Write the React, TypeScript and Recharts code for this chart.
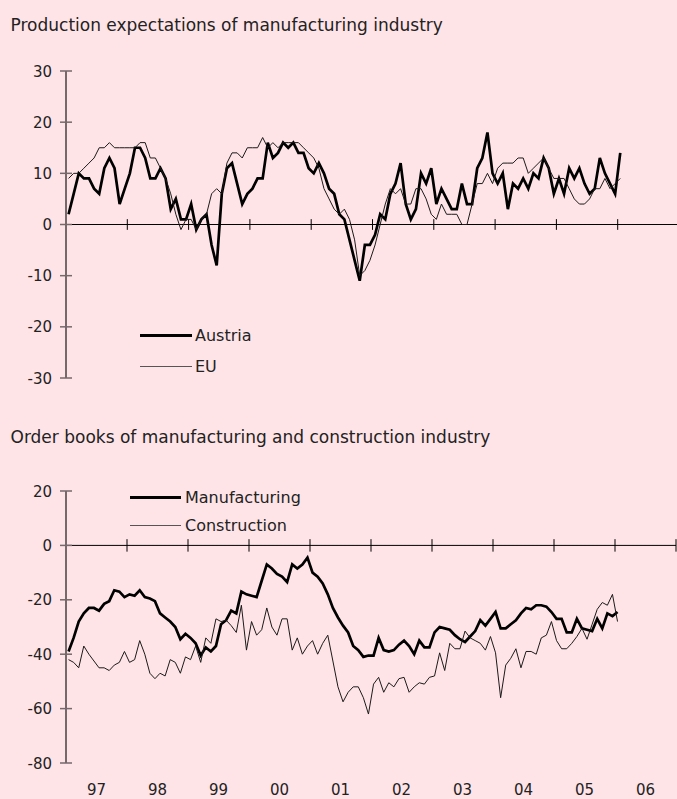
import { LineChart, Line, XAxis, YAxis, ReferenceLine, Legend } from 'recharts';

const START_YEAR = 1997;

// monthly survey balances, Jan 1997 - Jan 2006
const austria = [
  2, 6, 10, 9, 9, 7, 6, 11, 13, 11, 4, 7,
  10, 15, 15, 13, 9, 9, 11, 9, 3, 5, 1, 1,
  4, -1, 1, 2, -4, -8, 6, 11, 12, 8, 4, 6,
  7, 9, 9, 16, 13, 14, 16, 15, 16, 14, 14, 11,
  10, 12, 10, 7, 6, 2, 1, -3, -7, -11, -4, -4,
  -2, 2, 1, 6, 8, 12, 4, 1, 3, 10, 8, 11,
  4, 7, 5, 3, 3, 8, 4, 4, 11, 13, 18, 10,
  8, 10, 3, 8, 7, 9, 7, 10, 9, 13, 11, 6,
  9, 6, 11, 9, 11, 8, 6, 7, 13, 10, 8, 6,
  14,
];
const eu = [
  9, 10, 10, 11, 12, 13, 15, 15, 16, 15, 15, 15,
  15, 15, 16, 16, 13, 13, 11, 9, 6, 2, -1, 1,
  1, -1, 1, 2, 6, 7, 6, 12, 14, 14, 13, 15,
  15, 15, 17, 15, 16, 15, 16, 16, 16, 16, 15, 14,
  13, 11, 7, 5, 3, 2, 3, 1, -3, -10, -9, -7,
  -4, 0, 4, 7, 6, 7, 4, 4, 7, 7, 5, 2,
  1, 4, 2, 2, 2, 0, 0, 4, 8, 8, 10, 8,
  11, 12, 12, 12, 13, 13, 10, 11, 12, 13, 11, 9,
  9, 9, 7, 5, 4, 4, 5, 7, 7, 9, 7, 8,
  9,
];
const manufacturing = [
  -39, -34, -28, -25, -23, -23, -24, -21.5, -20.5, -16.5, -17, -19,
  -18, -18.5, -16.5, -19, -19.5, -20.5, -25, -26.5, -28, -30, -34.5, -32.5,
  -34, -36, -40.5, -37.5, -39, -37, -29, -27.5, -24, -25, -17, -18,
  -18.5, -19, -13, -7, -8.5, -10.5, -11.5, -13.5, -7, -8.5, -7, -4.5,
  -10, -11.5, -14, -18, -23, -26.5, -29.5, -32, -37, -38.5, -41, -40.5,
  -40.5, -34, -38.5, -39, -38.5, -36.5, -35, -37, -40, -35, -37.5, -37.5,
  -32, -30, -30.5, -31, -33, -34.5, -35.5, -33.5, -31.5, -27.5, -29.5, -27,
  -24.5, -30.5, -30.5, -29, -27.5, -25, -23, -23.5, -22, -22, -22.5, -24.5,
  -27, -27, -32, -32, -27, -30.5, -31, -31.5, -27, -30.5, -25, -26,
  -24.5,
];
const construction = [
  -42, -43, -45, -37, -40, -42.5, -45, -45, -46, -44, -43, -39,
  -43, -42, -35, -40, -47, -49, -47, -48, -42, -43, -47, -41,
  -42, -37, -43, -34, -36, -27, -28, -27.5, -29.5, -32, -22, -38.5,
  -28, -33, -31, -23, -30, -33, -27, -27, -38.5, -34, -40, -37,
  -35, -40, -36, -33, -42.5, -52, -57.5, -54, -52, -52, -56, -62,
  -51, -48.5, -54, -50.5, -52, -49, -48.5, -54, -52, -50.5, -51, -48.5,
  -48, -39.5, -46, -36, -38, -38, -31.5, -34, -35, -36, -38.5, -33.5,
  -39.5, -56, -44, -41.5, -38, -45, -39, -39, -40, -34, -33, -28,
  -35, -38, -38, -36, -33.5, -30.5, -34.5, -29, -23.5, -21, -22, -18,
  -28,
];

const topYTicks = [-30, -20, -10, 0, 10, 20, 30];
const bottomYTicks = [-80, -60, -40, -20, 0, 20];
const topYearTicks = [1998, 1999, 2000, 2001, 2002, 2003, 2004, 2005, 2006];
const bottomYearTicks = [1998, 1999, 2000, 2001, 2002, 2003, 2004, 2005, 2006, 2007];
const yearLabelPos = [1997.5, 1998.5, 1999.5, 2000.5, 2001.5, 2002.5, 2003.5, 2004.5, 2005.5, 2006.5];

const BG = '#FFE4E7';
const AXIS = '#74696b';
const INK = '#222';
const FONT = 'DejaVu Sans';

const monthPos = (i: number) => START_YEAR + (i + 0.5) / 12;

const topData = austria.map((v, i) => ({ t: monthPos(i), austria: v, eu: eu[i] }));
const bottomData = manufacturing.map((v, i) => ({ t: monthPos(i), manufacturing: v, construction: construction[i] }));

function YTick(props: any) {
  const { x, y, payload } = props;
  return (
    <g>
      <line x1={x + 8} x2={x + 20} y1={y} y2={y} stroke={AXIS} strokeWidth={1.5} />
      <text x={x} y={y} dy={5.5} textAnchor="end" fontSize={15} fill={INK} fontFamily={FONT}>
        {payload.value}
      </text>
    </g>
  );
}

// legend keeps the series order given here (Recharts sorts by name otherwise)
function makeLegend(order: string[], rowHeight: number, lineWidth: number, gap: number) {
  return (props: any) => {
    const items = [...(props.payload || [])].sort(
      (a: any, b: any) => order.indexOf(a.value) - order.indexOf(b.value)
    );
    return (
      <div style={{ fontFamily: FONT, fontSize: 16, color: INK }}>
        {items.map((entry: any) => {
          const sw = entry.payload?.strokeWidth ?? 1;
          const bold = sw > 1.5;
          return (
            <div key={entry.value} style={{ display: 'flex', alignItems: 'center', height: rowHeight }}>
              <div style={{ width: lineWidth, height: bold ? 3 : 1, background: bold ? '#000' : '#555', marginRight: gap }} />
              <span>{entry.value}</span>
            </div>
          );
        })}
      </div>
    );
  };
}

const titleStyle: React.CSSProperties = {
  position: 'absolute',
  left: 10.5,
  fontFamily: FONT,
  fontSize: 17,
  lineHeight: '17px',
  color: INK,
  whiteSpace: 'nowrap',
};

export default function App() {
  return (
    <div style={{ position: 'absolute', left: 0, top: 0, width: 677, height: 799, overflow: 'hidden', background: BG }}>
      <div style={{ ...titleStyle, top: 17.3 }}>Production expectations of manufacturing industry</div>
      <div style={{ position: 'absolute', left: 0, top: 0 }}>
        <LineChart width={690} height={400} data={topData} margin={{ top: 71, right: 11, bottom: 22, left: 6 }}>
          <XAxis type="number" dataKey="t" domain={[1997, 2007]} hide />
          <YAxis
            domain={[-30, 30]}
            ticks={topYTicks}
            interval={0}
            width={60}
            axisLine={{ stroke: AXIS, strokeWidth: 2 }}
            tickLine={false}
            tickSize={0}
            tickMargin={14}
            tick={(p: any) => <YTick {...p} />}
          />
          <ReferenceLine y={0} stroke="#000" strokeWidth={1} />
          {topYearTicks.map((yr) => (
            <ReferenceLine key={yr} segment={[{ x: yr, y: -1.05 }, { x: yr, y: 1.05 }]} stroke="#000" />
          ))}
          <Line dataKey="austria" name="Austria" stroke="#000" strokeWidth={2.7} dot={false} isAnimationActive={false} />
          <Line dataKey="eu" name="EU" stroke="#1a1a1a" strokeWidth={1} dot={false} isAnimationActive={false} />
          <Legend
            layout="vertical"
            align="center"
            verticalAlign="middle"
            content={makeLegend(['Austria', 'EU'], 31.4, 52, 3)}
            wrapperStyle={{ left: 140, top: 319.6, width: 200, height: 'auto' }}
          />
        </LineChart>
      </div>

      <div style={{ ...titleStyle, top: 429 }}>Order books of manufacturing and construction industry</div>
      <div style={{ position: 'absolute', left: 0, top: 400 }}>
        <LineChart width={690} height={399} data={bottomData} margin={{ top: 91, right: 14, bottom: 0, left: 6 }}>
          <XAxis
            type="number"
            dataKey="t"
            domain={[1997, 2007]}
            ticks={yearLabelPos}
            interval={0}
            height={36}
            axisLine={false}
            tickLine={false}
            tickSize={0}
            tickMargin={21}
            tickFormatter={(v: number) => String(Math.floor(v) % 100).padStart(2, '0')}
            tick={{ fontSize: 15, fill: INK, fontFamily: FONT }}
          />
          <YAxis
            domain={[-80, 20]}
            ticks={bottomYTicks}
            interval={0}
            width={60}
            axisLine={{ stroke: AXIS, strokeWidth: 2 }}
            tickLine={false}
            tickSize={0}
            tickMargin={14}
            tick={(p: any) => <YTick {...p} />}
          />
          <ReferenceLine y={0} stroke="#000" strokeWidth={1} />
          {bottomYearTicks.map((yr) => (
            <ReferenceLine key={yr} segment={[{ x: yr, y: -2.3 }, { x: yr, y: 2.3 }]} stroke="#000" ifOverflow="visible" />
          ))}
          <Line dataKey="manufacturing" name="Manufacturing" stroke="#000" strokeWidth={2.7} dot={false} isAnimationActive={false} />
          <Line dataKey="construction" name="Construction" stroke="#1a1a1a" strokeWidth={1} dot={false} isAnimationActive={false} />
          <Legend
            layout="vertical"
            align="center"
            verticalAlign="middle"
            content={makeLegend(['Manufacturing', 'Construction'], 27.7, 51, 4)}
            wrapperStyle={{ left: 130, top: 83.5, width: 220, height: 'auto' }}
          />
        </LineChart>
      </div>
    </div>
  );
}
